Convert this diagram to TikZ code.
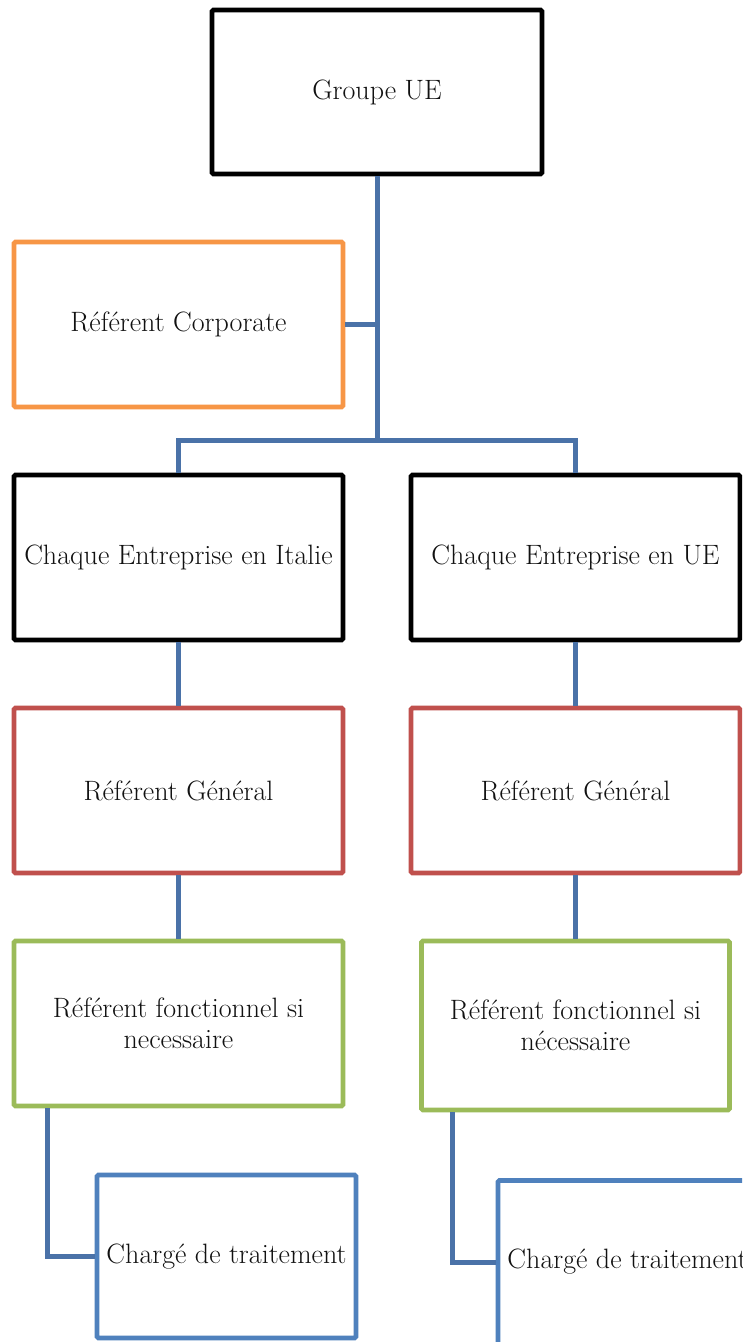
\documentclass[tikz,border=0pt]{standalone}
\definecolor{conn}{HTML}{4A72A8}
\definecolor{corp}{HTML}{F79646}
\definecolor{gen}{HTML}{C0504D}
\definecolor{fonc}{HTML}{9BBB59}
\definecolor{trait}{HTML}{4F81BD}
\definecolor{txt}{HTML}{111111}
\tikzset{
  box/.style={draw=#1, line width=4.8pt, rounded corners=1.5pt, fill=white,
    align=center, text=txt, inner sep=0pt,
    font=\fontsize{28}{31}\selectfont},
  link/.style={draw=conn, line width=5pt}
}
\begin{document}
\begin{tikzpicture}[x=1pt,y=-1pt]
\useasboundingbox (0,0) rectangle (742,1342);
\clip (0,0) rectangle (742,1342);
\fill[white] (0,0) rectangle (742,1342);
\coordinate (split) at (377,440);
\node[box=black, minimum width=330pt, minimum height=164pt] (g) at (377,92) {Groupe UE};
\node[box=corp, minimum width=329pt, minimum height=165pt] (corp) at (178.5,324.5) {Référent Corporate};
\node[box=black, minimum width=329pt, minimum height=165pt] (it) at (178.5,557.5) {Chaque Entreprise en Italie};
\node[box=black, minimum width=329pt, minimum height=165pt] (ue) at (575.5,557.5) {Chaque Entreprise en UE};
\node[box=gen, minimum width=329pt, minimum height=165pt] (rgl) at (178.5,790.5) {Référent Général};
\node[box=gen, minimum width=329pt, minimum height=165pt] (rgr) at (575.5,790.5) {Référent Général};
\node[box=fonc, minimum width=329pt, minimum height=165pt] (fl) at (178.5,1023.5) {Référent fonctionnel si\\necessaire};
\node[box=fonc, minimum width=308pt, minimum height=169pt] (fr) at (575.5,1025.5) {Référent fonctionnel si\\nécessaire};
\node[box=trait, minimum width=259pt, minimum height=163pt] (tl) at (226.5,1256.5) {Chargé de traitement};
\node[box=trait, minimum width=259pt, minimum height=175pt] (tr) at (627.5,1268) {};
\node[text=txt, font=\fontsize{28}{31}\selectfont, inner sep=0pt] (trt) at (627.5,1262) {Chargé de traitement};
\path[link] (g.south) -- (split);
\path[link] (corp.east) -- (corp.east -| split);
\path[link] (it.north) |- (split) -| (ue.north);
\path[link] (it.south) -- (rgl.north);
\path[link] (ue.south) -- (rgr.north);
\path[link] (rgl.south) -- (fl.north);
\path[link] (rgr.south) -- (fr.north);
\path[link] ([xshift=-131.5pt]fl.south) |- (tl.west);
\path[link] ([xshift=-123.5pt]fr.south) |- (trt.west -| tr.west);
\end{tikzpicture}
\end{document}
